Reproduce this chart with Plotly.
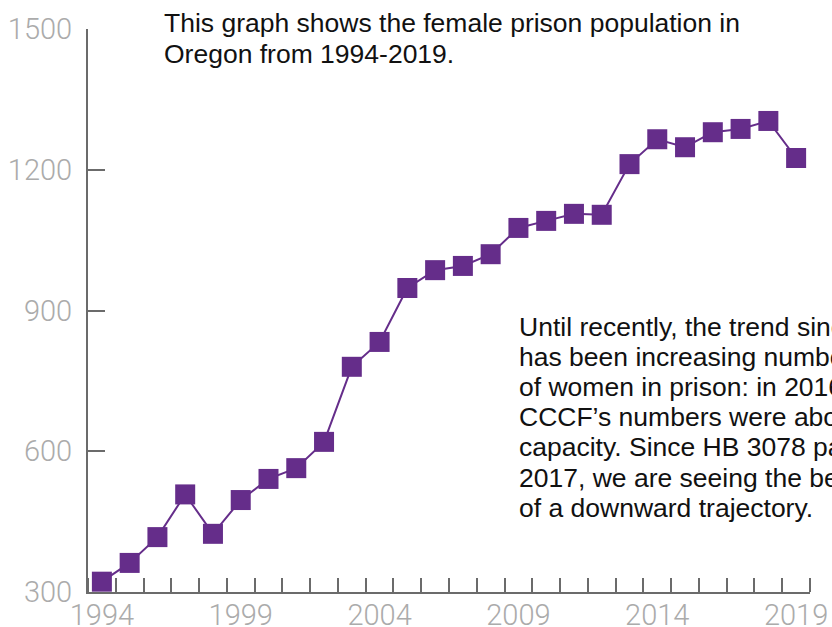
import plotly.graph_objects as go

# ---- data ----
years = list(range(1994, 2020))
population = [322, 362, 417, 508, 424, 496, 541, 564, 620, 780, 833, 948, 986, 995,
              1020, 1076, 1091, 1106, 1104, 1212, 1265, 1248, 1280, 1287, 1304, 1225]
x_tick_labels = [1994, 1999, 2004, 2009, 2014, 2019]
y_tick_values = [300, 600, 900, 1200, 1500]
title_lines = ["This graph shows the female prison population in",
               "Oregon from 1994-2019."]
note_lines = ["Until recently, the trend since 1994",
              "has been increasing numbers",
              "of women in prison: in 2016",
              "CCCF\u2019s numbers were above",
              "capacity. Since HB 3078 passed in",
              "2017, we are seeing the beginning",
              "of a downward trajectory."]

# ---- layout geometry (pixels) ----
W, H = 832, 627
L, R, T, B = 88, 810, 29, 592
PURPLE = "#652D8A"
AXIS = "#6b6b6b"
TICKFONT = dict(family="Roboto, Liberation Sans, Arial", size=29, color="#ababab", weight=300)
TEXTFONT = dict(family="Liberation Sans, Arial, sans-serif", size=26.5, color="#111111")


def pxx(px):
    return (px - L) / (R - L)


def pxy(py):
    return (B - py) / (B - T)


fig = go.Figure()
fig.add_trace(go.Scatter(
    x=years, y=population, mode="lines+markers",
    line=dict(color=PURPLE, width=2),
    marker=dict(symbol="square", size=20, color=PURPLE, line=dict(width=0)),
    cliponaxis=False, hoverinfo="x+y", showlegend=False,
))

annotations = []
for i, t in enumerate(title_lines):
    annotations.append(dict(text=t, xref="paper", yref="paper", x=pxx(162), y=pxy(23 + 30.5 * i),
                            xanchor="left", yanchor="middle", showarrow=False, font=TEXTFONT))
for i, t in enumerate(note_lines):
    annotations.append(dict(text=t, xref="paper", yref="paper", x=pxx(517), y=pxy(326.5 + 30.2 * i),
                            xanchor="left", yanchor="middle", showarrow=False, font=TEXTFONT))

fig.update_layout(
    width=W, height=H,
    margin=dict(l=L, r=W - R, t=T, b=H - B, pad=0, autoexpand=False),
    paper_bgcolor="white", plot_bgcolor="white",
    annotations=annotations,
    xaxis=dict(
        range=[1993.5, 2019.5], showgrid=False, zeroline=False, automargin=False,
        showline=True, linecolor=AXIS, linewidth=2,
        tickmode="array", tickvals=x_tick_labels, ticktext=[str(v) for v in x_tick_labels],
        ticks="", tickfont=TICKFONT, ticklabelstandoff=-4,
        minor=dict(ticks="inside", tickmode="linear", tick0=1994.5, dtick=1,
                   ticklen=14, tickwidth=2, tickcolor=AXIS, showgrid=False),
    ),
    yaxis=dict(
        range=[300, 1500], showgrid=False, zeroline=False, automargin=False,
        showline=True, linecolor=AXIS, linewidth=2,
        tickmode="array", tickvals=y_tick_values,
        ticks="inside", ticklen=17, tickwidth=2, tickcolor=AXIS,
        tickfont=TICKFONT, ticklabelstandoff=8,
    ),
)

fig.write_html("out.html", config={"displayModeBar": False},
               post_script="document.body.style.margin='0';document.body.style.overflow='hidden';")
